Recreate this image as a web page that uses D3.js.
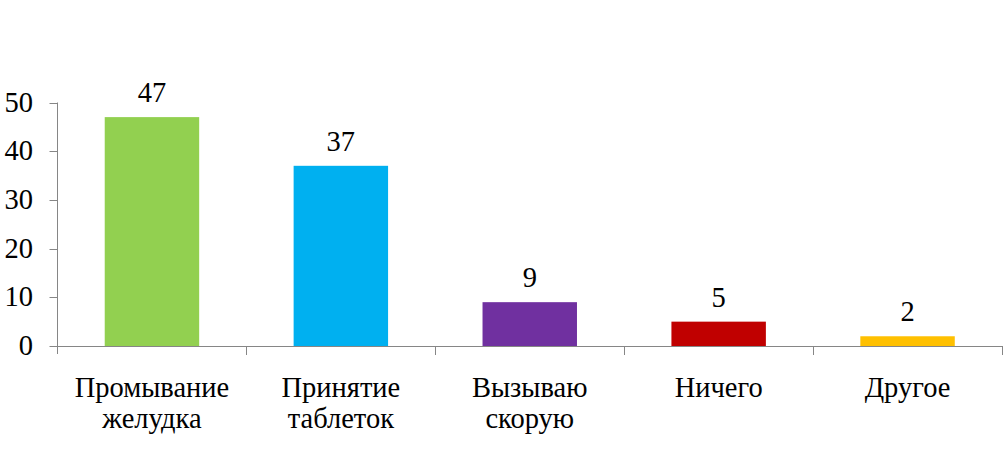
<!DOCTYPE html>
<html><head><meta charset="utf-8">
<script src="https://cdn.jsdelivr.net/npm/d3@7"></script>
<style>body{margin:0;background:#fff}</style>
</head><body><svg id="c" width="1003" height="464"></svg>
<script>
const categories = [["Промывание","желудка"],["Принятие","таблеток"],["Вызываю","скорую"],["Ничего"],["Другое"]];
const values = [47,37,9,5,2];
const colors = ["#92D050","#00B0F0","#7030A0","#C00000","#FFC000"];
const yTicks = [0,10,20,30,40,50];

const FONT = "Liberation Serif";
const FS = "28.5px";
const svg = d3.select("#c");
const x0 = 57.5, x1 = 1002, yb = 346, yt = 102.5;
const x = d3.scaleBand().domain(d3.range(values.length)).range([x0,x1]).paddingInner(0.5).paddingOuter(0.25);
const xb = d3.scaleBand().domain(d3.range(values.length)).range([x0,x1]);
const y = d3.scaleLinear().domain([0,50]).range([yb,yt]);
const axisColor = "#868686";

svg.selectAll("rect.bar").data(values).join("rect")
  .attr("x",(d,i)=>x(i)).attr("width",x.bandwidth())
  .attr("y",d=>y(d)).attr("height",d=>yb-y(d)).attr("fill",(d,i)=>colors[i]);

// y axis
const ya = svg.append("g");
ya.append("line").attr("x1",x0).attr("x2",x0).attr("y1",y(50)).attr("y2",yb+8).attr("stroke",axisColor);
ya.selectAll("line.t").data(yTicks).join("line").attr("x1",x0-8).attr("x2",x0).attr("y1",d=>Math.round(y(d))+0.5).attr("y2",d=>Math.round(y(d))+0.5).attr("stroke",axisColor);
ya.selectAll("text").data(yTicks).join("text").attr("font-family",FONT).attr("font-size",FS)
  .attr("x",33).attr("y",d=>y(d)+9).attr("text-anchor","end").text(d=>d);

// x axis
const xa = svg.append("g");
xa.append("line").attr("x1",x0).attr("x2",x1).attr("y1",yb+0.5).attr("y2",yb+0.5).attr("stroke",axisColor);
const bounds = d3.range(values.length+1).map(i=> i<values.length ? xb(i) : x1);
xa.selectAll("line.t").data(bounds.slice(1)).join("line").attr("x1",d=>Math.round(d)+0.5).attr("x2",d=>Math.round(d)+0.5).attr("y1",yb).attr("y2",yb+9).attr("stroke",axisColor);

// category labels
categories.forEach((lines,i)=>{
  const t = svg.append("text").attr("font-family",FONT).attr("font-size",FS).attr("text-anchor","middle");
  lines.forEach((s,j)=>t.append("tspan").attr("x",x(i)+x.bandwidth()/2).attr("y",396.5+j*31.5).text(s));
});

// value labels
svg.selectAll("text.v").data(values).join("text").attr("class","v").attr("font-family",FONT).attr("font-size",FS)
  .attr("x",(d,i)=>x(i)+x.bandwidth()/2).attr("y",d=>y(d)-15).attr("text-anchor","middle").text(d=>d);
</script></body></html>
